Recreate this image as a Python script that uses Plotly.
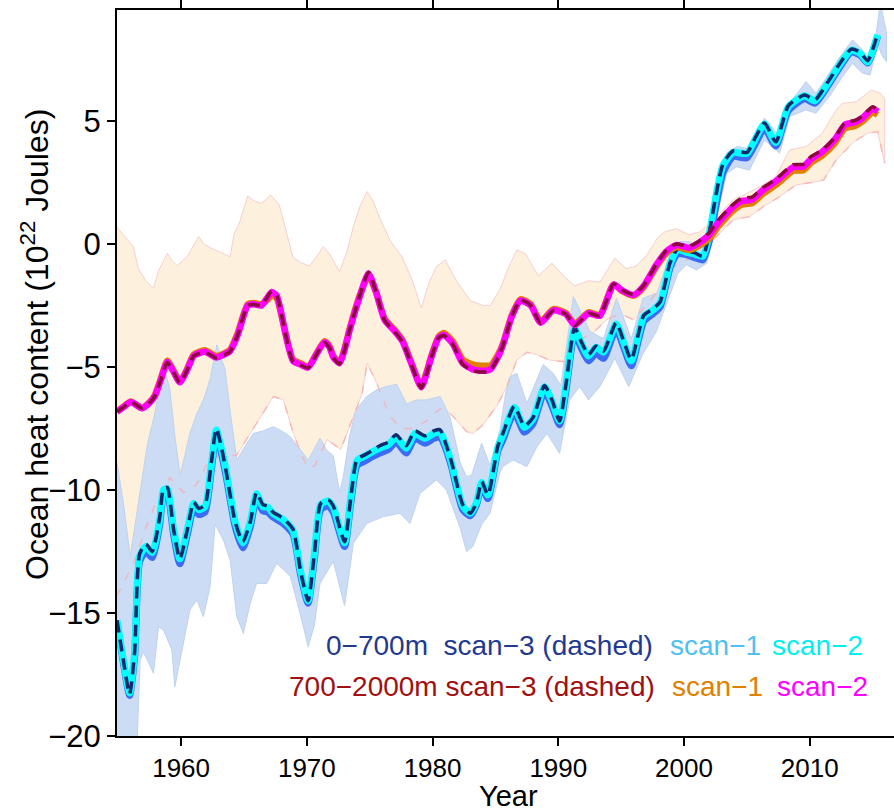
import plotly.graph_objects as go

# ---------------- 0-700 m layer ----------------
up_years = [1954.9, 1955.4, 1955.9, 1956.3, 1956.7, 1957.2, 1957.7, 1958.3, 1958.6, 1958.9,
            1959.4, 1959.9, 1960.5, 1961.0, 1961.4, 1961.9, 1962.4, 1962.8, 1963.2, 1963.6,
            1964.3, 1964.9, 1965.5, 1966.0, 1966.5, 1966.9, 1967.3, 1968.1, 1968.9, 1969.5,
            1970.1, 1970.6, 1971.1, 1971.7, 1972.1, 1973.0, 1973.5, 1974.0, 1974.7, 1975.2,
            1975.8, 1976.5, 1977.1, 1977.9, 1978.6, 1979.4, 1980.1, 1980.6, 1981.0, 1981.5,
            1982.4, 1983.0, 1983.5, 1983.9, 1984.4, 1985.2, 1985.6, 1986.5, 1987.3, 1988.0,
            1988.9, 1989.5, 1990.1, 1990.6, 1991.3, 1991.8, 1992.4, 1993.0, 1993.6, 1994.6,
            1995.2, 1995.8, 1996.8, 1997.5, 1998.1, 1998.9, 1999.5, 2000.3, 2000.8, 2001.5,
            2002.0, 2002.6, 2003.1, 2003.9, 2005.0, 2005.7, 2006.4, 2007.3, 2008.3, 2009.6,
            2010.4, 2011.4, 2012.5, 2013.3, 2014.0, 2014.6, 2015.4]

up_scan2 = [-15.3, -16.9, -18.25, -16.6, -12.7, -12.3, -12.55, -11.2, -10.0, -9.95,
            -11.6, -12.8, -11.6, -10.55, -10.8, -10.68, -9.0, -7.56, -8.3, -9.3,
            -11.3, -12.15, -11.3, -10.15, -10.68, -10.7, -10.95, -11.2, -11.65, -13.3,
            -14.5, -12.6, -10.6, -10.45, -10.7, -12.15, -10.3, -8.8, -8.6, -8.45,
            -8.3, -8.15, -7.85, -8.3, -7.7, -7.9, -7.7, -7.65, -8.1, -8.9,
            -10.65, -10.95, -10.5, -9.7, -10.2, -8.25, -7.75, -6.65, -7.45, -7.1,
            -5.8, -6.4, -7.2, -5.8, -3.45, -4.0, -4.55, -4.2, -4.4, -3.25,
            -4.0, -4.75, -2.95, -2.7, -2.4, -0.8, -0.24, -0.35, -0.4, -0.5,
            0.4, 2.1, 3.2, 3.72, 3.68, 4.3, 4.88, 4.12, 5.58, 6.02,
            5.82, 6.5, 7.38, 7.88, 7.75, 7.4, 8.5]

up_scan1 = [-15.4, -17.0, -18.35, -16.8, -12.9, -12.5, -12.75, -11.4, -10.2, -10.15,
            -11.8, -13.0, -11.8, -10.75, -11.0, -10.9, -9.2, -7.75, -8.5, -9.5,
            -11.5, -12.35, -11.5, -10.35, -10.85, -10.9, -11.1, -11.35, -11.8, -13.45,
            -14.6, -12.8, -10.8, -10.65, -10.9, -12.3, -10.5, -9.0, -8.8, -8.65,
            -8.5, -8.35, -8.05, -8.5, -7.9, -8.1, -7.9, -7.85, -8.25, -9.05,
            -10.8, -11.05, -10.6, -9.85, -10.35, -8.4, -7.95, -6.85, -7.65, -7.3,
            -6.0, -6.6, -7.35, -6.0, -3.6, -4.2, -4.75, -4.45, -4.65, -3.45,
            -4.2, -4.95, -3.15, -2.85, -2.55, -0.95, -0.4, -0.45, -0.55, -0.65,
            0.1, 1.7, 2.9, 3.55, 3.5, 4.1, 4.7, 3.98, 5.42, 5.9,
            5.72, 6.4, 7.28, 7.8, 7.68, 7.35, 8.45]

up_scan3 = [-15.3, -16.9, -18.3, -16.6, -12.6, -12.2, -12.5, -11.1, -9.95, -9.9,
            -11.6, -12.8, -11.6, -10.5, -10.75, -10.6, -8.9, -7.5, -8.25, -9.3,
            -11.3, -12.1, -11.3, -10.1, -10.6, -10.65, -10.9, -11.15, -11.6, -13.3,
            -14.5, -12.6, -10.55, -10.4, -10.65, -12.1, -10.3, -8.75, -8.55, -8.4,
            -8.2, -8.05, -7.75, -8.2, -7.6, -7.8, -7.6, -7.55, -8.05, -8.85,
            -10.6, -10.95, -10.5, -9.65, -10.2, -8.2, -7.7, -6.6, -7.4, -7.05,
            -5.75, -6.35, -7.2, -5.75, -3.4, -3.95, -4.5, -4.15, -4.35, -3.2,
            -3.95, -4.7, -2.9, -2.65, -2.35, -0.75, -0.2, -0.3, -0.35, -0.5,
            0.45, 2.15, 3.25, 3.78, 3.72, 4.35, 4.92, 4.15, 5.62, 6.05,
            5.85, 6.55, 7.42, 7.92, 7.8, 7.45, 8.55]

up_band_years_hi = [1954.9, 1955.4, 1955.95, 1956.4, 1956.74, 1957.3, 1957.9, 1958.3, 1958.7, 1959.1,
                    1959.5, 1959.92, 1960.7, 1961.25, 1961.8, 1962.3, 1962.84, 1963.5, 1963.9, 1964.43,
                    1965.1, 1965.75, 1966.5, 1967.34, 1968.0, 1968.67, 1969.7, 1970.1, 1971.05, 1971.6,
                    1972.1, 1972.6, 1972.9, 1973.4, 1973.9, 1974.76, 1975.56, 1976.3, 1977.15, 1977.94,
                    1978.7, 1979.5, 1980.6, 1981.4, 1982.2, 1982.7, 1983.1, 1983.9, 1984.56, 1985.36,
                    1985.8, 1986.15, 1986.7, 1987.5, 1988.8, 1989.6, 1990.2, 1991.2, 1991.6, 1992.5,
                    1993.6, 1994.62, 1995.8, 1996.75, 1997.85, 1998.87, 1999.66, 2000.46, 2001.26, 2001.8,
                    2002.6, 2003.4, 2004.2, 2005.0, 2006.4, 2007.35, 2008.4, 2009.7, 2010.5, 2011.3,
                    2012.6, 2013.4, 2014.2, 2014.8, 2015.3, 2015.6, 2015.9, 2016.1]
up_band_hi = [-8.9, -10.5, -12.7, -11.2, -10.1, -8.2, -6.9, -5.8, -5.1, -5.9,
              -7.8, -9.4, -7.7, -6.9, -6.3, -5.5, -4.1, -5.12, -6.8, -8.78,
              -8.2, -7.7, -7.6, -7.43, -7.6, -7.83, -8.51, -8.78, -7.9, -8.4,
              -8.6, -10.1, -9.46, -7.8, -6.75, -6.2, -5.93, -5.8, -5.7, -6.5,
              -6.34, -6.34, -6.2, -7.05, -8.9, -9.46, -9.4, -8.1, -9.0, -7.56,
              -6.1, -5.39, -5.26, -6.48, -4.9, -5.26, -5.75, -2.14, -2.55, -3.55,
              -3.85, -2.2, -3.85, -2.2, -2.0, -0.4, 0.1, 0.09, -0.17, 0.03,
              2.33, 3.7, 3.96, 3.89, 5.11, 4.5, 5.72, 6.6, 6.13, 6.74,
              7.75, 8.29, 7.89, 7.2, 8.6, 9.8, 9.0, 8.6]

up_band_years_lo = [1954.9, 1956.0, 1956.5, 1956.74, 1957.0, 1957.4, 1957.8, 1958.2, 1958.6, 1959.26,
                    1959.5, 1959.66, 1960.05, 1960.7, 1961.25, 1961.77, 1962.3, 1962.7, 1963.36, 1963.9,
                    1964.43, 1964.95, 1965.5, 1966.0, 1966.8, 1967.6, 1968.67, 1969.46, 1970.1, 1970.6,
                    1971.05, 1972.1, 1973.0, 1973.7, 1974.76, 1976.1, 1977.4, 1978.2, 1979.0, 1980.3,
                    1981.1, 1982.2, 1982.7, 1983.2, 1983.9, 1984.56, 1985.36, 1985.6, 1986.4, 1987.5,
                    1988.3, 1989.1, 1990.1, 1990.9, 1991.7, 1992.4, 1993.3, 1994.5, 1995.6, 1996.75,
                    1997.8, 1998.7, 1999.5, 2000.2, 2001.0, 2001.8, 2002.6, 2003.4, 2004.2, 2005.2,
                    2006.4, 2007.6, 2008.4, 2009.7, 2010.5, 2011.55, 2012.6, 2013.4, 2014.2, 2014.8,
                    2015.4, 2015.7, 2016.1]
up_band_lo = [-23.0, -23.0, -20.3, -16.9, -16.6, -17.0, -17.45, -15.56, -15.7, -16.5,
              -18.0, -17.7, -16.64, -14.88, -14.47, -15.15, -13.93, -11.4, -12.03, -12.85,
              -15.15, -15.83, -14.6, -13.8, -13.8, -12.98, -13.5, -15.0, -16.37, -15.5,
              -13.8, -12.9, -14.7, -12.17, -11.36, -11.08, -10.95, -11.36, -10.14, -9.59,
              -10.0, -11.55, -12.5, -12.3, -11.4, -10.95, -9.3, -9.05, -8.78, -9.05,
              -8.24, -7.7, -8.51, -6.34, -5.8, -6.34, -5.8, -4.65, -5.8, -4.44,
              -3.56, -2.3, -1.2, -0.85, -1.06, -0.78, 1.11, 2.87, 3.14, 3.0,
              4.23, 3.69, 5.18, 5.45, 5.31, 5.99, 6.8, 7.34, 6.94, 6.87,
              8.16, 7.7, 7.41]

# ---------------- 700-2000 m layer ----------------
deep_years = [1954.9, 1955.5, 1956.0, 1956.9, 1957.5, 1957.9, 1958.4, 1958.9, 1959.4, 1959.9,
              1960.5, 1961.0, 1961.9, 1962.8, 1963.4, 1963.9, 1964.5, 1965.3, 1965.8, 1966.4,
              1966.9, 1967.2, 1967.6, 1968.0, 1968.3, 1968.9, 1969.5, 1970.1, 1970.8, 1971.4,
              1971.8, 1972.1, 1972.6, 1973.0, 1973.4, 1974.2, 1974.9, 1975.5, 1976.2, 1977.0,
              1977.6, 1978.3, 1979.1, 1979.5, 1979.9, 1980.5, 1980.9, 1981.6, 1982.4, 1983.2,
              1983.8, 1984.3, 1984.6, 1985.2, 1985.6, 1986.3, 1987.0, 1987.8, 1988.6, 1989.6,
              1990.6, 1991.3, 1991.9, 1992.4, 1993.3, 1994.4, 1995.1, 1996.0, 1996.8, 1997.8,
              1998.6, 1999.4, 2000.4, 2001.1, 2002.0, 2002.7, 2003.4, 2004.0, 2004.6, 2005.4,
              2006.3, 2007.3, 2008.0, 2008.7, 2009.5, 2010.1, 2011.0, 2012.0, 2012.8, 2013.6,
              2014.2, 2015.0, 2015.4]

deep_scan2 = [-6.82, -6.6, -6.42, -6.68, -6.45, -6.2, -5.5, -4.8, -5.2, -5.62,
              -5.1, -4.55, -4.38, -4.62, -4.5, -4.35, -3.7, -2.5, -2.45, -2.5,
              -2.15, -1.95, -2.1, -2.9, -3.65, -4.75, -4.9, -5.02, -4.45, -4.0,
              -4.2, -4.6, -4.85, -4.3, -3.5, -2.15, -1.2, -1.95, -3.1, -3.55,
              -3.95, -4.85, -5.82, -5.3, -4.6, -3.8, -3.7, -4.05, -4.85, -5.1,
              -5.15, -5.15, -5.1, -4.6, -4.1, -2.95, -2.3, -2.5, -3.2, -2.7,
              -2.85, -3.3, -3.05, -2.82, -2.92, -1.65, -1.9, -2.07, -1.7, -0.85,
              -0.3, -0.04, -0.15, 0.02, 0.37, 0.85, 1.25, 1.55, 1.75, 1.8,
              2.2, 2.55, 2.85, 3.13, 3.15, 3.45, 3.75, 4.25, 4.85, 4.95,
              5.12, 5.5, 5.38]

deep_scan1 = [-6.8, -6.58, -6.4, -6.66, -6.43, -6.15, -5.45, -4.75, -5.15, -5.6,
              -5.05, -4.5, -4.32, -4.55, -4.45, -4.3, -3.62, -2.45, -2.4, -2.45,
              -2.25, -2.1, -2.2, -2.95, -3.62, -4.7, -4.85, -5.0, -4.42, -3.95,
              -4.15, -4.55, -4.8, -4.25, -3.45, -2.1, -1.3, -1.95, -3.05, -3.5,
              -3.9, -4.8, -5.78, -5.25, -4.55, -3.75, -3.62, -3.95, -4.7, -4.9,
              -4.95, -4.95, -4.95, -4.5, -4.05, -2.9, -2.25, -2.45, -3.15, -2.65,
              -2.8, -3.25, -3.0, -2.78, -2.88, -1.65, -1.92, -2.1, -1.75, -0.92,
              -0.38, -0.12, -0.25, -0.1, 0.22, 0.7, 1.1, 1.4, 1.6, 1.65,
              2.05, 2.4, 2.7, 2.98, 3.0, 3.3, 3.6, 4.1, 4.7, 4.8,
              4.98, 5.35, 5.25]

deep_scan3 = [-6.82, -6.6, -6.42, -6.68, -6.45, -6.2, -5.5, -4.82, -5.22, -5.64,
              -5.1, -4.55, -4.4, -4.64, -4.52, -4.36, -3.7, -2.5, -2.46, -2.5,
              -2.12, -1.92, -2.08, -2.9, -3.66, -4.78, -4.92, -5.04, -4.46, -4.02,
              -4.22, -4.62, -4.88, -4.32, -3.5, -2.12, -1.15, -1.95, -3.12, -3.58,
              -3.98, -4.88, -5.86, -5.32, -4.62, -3.8, -3.72, -4.08, -4.9, -5.15,
              -5.2, -5.2, -5.15, -4.62, -4.12, -2.95, -2.28, -2.5, -3.22, -2.7,
              -2.85, -3.32, -3.05, -2.82, -2.92, -1.62, -1.88, -2.05, -1.68, -0.82,
              -0.26, 0.0, -0.1, 0.08, 0.45, 0.95, 1.35, 1.65, 1.86, 1.9,
              2.3, 2.62, 2.95, 3.22, 3.24, 3.55, 3.82, 4.32, 4.92, 5.02,
              5.2, 5.58, 5.45]

deep_band_years_hi = [1954.9, 1955.5, 1956.2, 1956.6, 1957.2, 1957.8, 1958.2, 1958.9, 1959.3, 1959.7,
                      1960.5, 1961.4, 1961.8, 1962.3, 1963.1, 1963.9, 1964.2, 1964.6, 1965.3, 1965.8,
                      1966.4, 1967.1, 1967.8, 1968.3, 1968.9, 1969.5, 1970.2, 1970.8, 1971.3, 1971.8,
                      1972.6, 1973.2, 1973.7, 1974.2, 1974.8, 1975.3, 1975.8, 1976.6, 1977.6, 1978.4,
                      1979.1, 1979.7, 1980.3, 1981.0, 1981.9, 1983.0, 1984.0, 1984.6, 1985.4, 1986.0,
                      1986.7, 1987.4, 1988.4, 1989.5, 1990.4, 1991.3, 1992.4, 1993.3, 1994.5, 1995.4,
                      1996.2, 1997.0, 1997.9, 1998.5, 1999.4, 2000.4, 2001.3, 2002.6, 2003.9, 2005.0,
                      2006.3, 2007.3, 2008.4, 2009.7, 2011.0, 2012.1, 2012.6, 2013.7, 2014.9, 2015.6,
                      2015.96]
deep_band_hi = [0.68, 0.3, -0.11, -1.0, -1.5, -1.8, -1.1, -0.38, -0.7, -0.88,
                -0.5, 0.3, 0.0, -0.15, -0.35, -0.52, 0.4, 0.8, 1.95, 1.75,
                1.65, 1.99, 1.6, 0.6, -0.55, -0.75, -0.9, -0.5, -0.11, -0.4,
                -1.13, -0.3, 0.7, 1.5, 2.13, 1.7, 1.05, 0.16, -0.55, -1.5,
                -2.6, -1.6, -0.92, -0.65, -1.5, -2.3, -2.5, -2.5, -1.8, -1.0,
                -0.24, -0.4, -1.3, -0.78, -1.3, -1.7, -1.5, -1.55, -0.58, -1.0,
                -0.9, -0.48, 0.25, 0.5, 0.62, 0.37, 0.5, 1.11, 1.79, 2.06,
                2.4, 2.74, 3.82, 3.96, 4.5, 5.45, 5.72, 5.78, 6.26, 6.13,
                5.9]

deep_band_years_lo = [1954.9, 1955.5, 1956.2, 1957.5, 1958.3, 1959.1, 1960.2, 1961.2, 1962.0, 1963.0,
                      1964.4, 1966.0, 1967.34, 1968.13, 1968.93, 1969.6, 1970.12, 1970.65, 1971.6, 1972.7,
                      1973.8, 1974.4, 1974.8, 1975.56, 1976.6, 1977.5, 1978.5, 1979.5, 1980.6, 1981.1,
                      1981.65, 1982.7, 1983.2, 1984.0, 1984.56, 1985.1, 1985.9, 1986.7, 1987.5, 1988.3,
                      1989.3, 1990.66, 1991.7, 1992.8, 1993.8, 1994.9, 1996.0, 1997.0, 1998.2, 1999.2,
                      2000.46, 2001.2, 2002.05, 2003.9, 2005.2, 2006.3, 2007.6, 2008.9, 2010.5, 2011.1,
                      2012.1, 2013.5, 2014.6, 2015.4, 2015.96]
deep_band_lo = [-14.3, -13.7, -13.0, -11.1, -10.2, -9.5, -10.1, -9.8, -9.0, -8.6,
                -8.6, -7.29, -6.2, -6.34, -7.7, -8.6, -9.12, -9.0, -7.95, -8.35,
                -6.9, -6.07, -4.85, -5.66, -7.0, -7.5, -7.5, -7.2, -6.7, -6.75,
                -7.02, -7.63, -7.7, -7.36, -6.95, -6.6, -5.8, -4.72, -4.4, -4.5,
                -4.72, -4.8, -3.9, -3.6, -3.1, -2.82, -3.09, -2.5, -1.75, -0.9,
                -0.6, -0.4, 0.03, 0.98, 1.11, 1.52, 1.92, 2.4, 2.53, 2.6,
                3.41, 4.15, 4.5, 4.57, 3.28]

year_ticks = [1960, 1970, 1980, 1990, 2000, 2010]
ohc_ticks = [-20, -15, -10, -5, 0, 5]

# ---------------- figure ----------------
W, H = 894, 811
M_L, M_R, M_T, M_B = 117, 0, 10, 75
FONT = "Liberation Sans, Arial, Helvetica, sans-serif"


def band(xs_hi, hi, xs_lo, lo, fill, edge, width):
    return go.Scatter(x=list(xs_hi) + list(xs_lo)[::-1],
                      y=list(hi) + list(lo)[::-1],
                      mode="lines", fill="toself", fillcolor=fill,
                      line=dict(color=edge, width=width),
                      hoverinfo="skip", showlegend=False)


def curve(xs, ys, color, width, dash="solid"):
    return go.Scatter(x=xs, y=ys, mode="lines",
                      line=dict(color=color, width=width, dash=dash, shape="spline", smoothing=0.6),
                      hoverinfo="skip", showlegend=False)


fig = go.Figure()
fig.add_trace(band(deep_band_years_hi, deep_band_hi, deep_band_years_lo, deep_band_lo,
                   "#fdf0dd", "#f7cfcf", 1))
fig.add_trace(band(up_band_years_hi, up_band_hi, up_band_years_lo, up_band_lo,
                   "#cbdcf4", "#bed3f0", 1))
# lower bound of the deep band, seen through the upper-layer band
fig.add_trace(go.Scatter(x=deep_band_years_lo, y=deep_band_lo, mode="lines",
                         line=dict(color="rgba(250,170,170,0.7)", width=1.5, dash="8px,10px"),
                         hoverinfo="skip", showlegend=False))

fig.add_trace(curve(up_years, up_scan1, "#3c6cf4", 7))
fig.add_trace(curve(up_years, up_scan2, "#00ffff", 7))
fig.add_trace(curve(up_years, up_scan3, "#14286e", 3.5, "12px,7px"))

fig.add_trace(curve(deep_years, deep_scan1, "#e08000", 6.5))
fig.add_trace(curve(deep_years, deep_scan2, "#ff00ff", 6.5))
fig.add_trace(curve(deep_years, deep_scan3, "#8b0a3c", 3.5, "12px,7px"))


def px_x(px):
    return (px - M_L) / (W - M_L - M_R)


def px_y(py):
    return (H - M_B - py) / (H - M_T - M_B)


legend_rows = [
    (645, [("0\u2212700m  scan\u22123 (dashed)", "#1f3a8f", 655, "right"),
           ("scan\u22121", "#4fc0f0", 668, "left"),
           ("scan\u22122", "#00f0f0", 770, "left")]),
    (686, [("700\u22122000m scan\u22123 (dashed)", "#a01010", 657, "right"),
           ("scan\u22121", "#e08000", 670, "left"),
           ("scan\u22122", "#ff00ff", 775, "left")]),
]
for row_y, items in legend_rows:
    for text, color, xpx, anchor in items:
        fig.add_annotation(x=px_x(xpx), y=px_y(row_y), xref="paper", yref="paper",
                           text=text, showarrow=False, xanchor=anchor, yanchor="middle",
                           font=dict(family=FONT, size=28, color=color))

fig.add_annotation(x=px_x(35), y=px_y(345), xref="paper", yref="paper",
                   text="Ocean heat content (10<sup>22</sup> Joules)", textangle=-90,
                   showarrow=False, xanchor="center", yanchor="middle",
                   font=dict(family=FONT, size=32, color="black"))
fig.add_annotation(x=px_x(509), y=px_y(796), xref="paper", yref="paper",
                   text="Year", showarrow=False, xanchor="center", yanchor="middle",
                   font=dict(family=FONT, size=29, color="black"))

fig.update_layout(
    width=W, height=H,
    margin=dict(l=M_L, r=M_R, t=M_T, b=M_B, pad=0),
    paper_bgcolor="white", plot_bgcolor="white",
    font=dict(family=FONT, size=26, color="black"),
    showlegend=False,
)
fig.update_xaxes(range=[1954.9, 2016.7], tickvals=year_ticks, ticks="outside",
                 ticklen=8, tickwidth=2, tickcolor="black",
                 showline=True, linecolor="black", linewidth=2, mirror="ticks",
                 showgrid=False, zeroline=False, layer="below traces",
                 tickfont=dict(family=FONT, size=26))
fig.update_yaxes(range=[-20, 9.51], tickvals=ohc_ticks, ticks="outside",
                 ticklen=8, tickwidth=2, tickcolor="black",
                 showline=True, linecolor="black", linewidth=2, mirror=False,
                 showgrid=False, zeroline=False, layer="below traces",
                 tickfont=dict(family=FONT, size=31))

fig.write_html("out.html")
